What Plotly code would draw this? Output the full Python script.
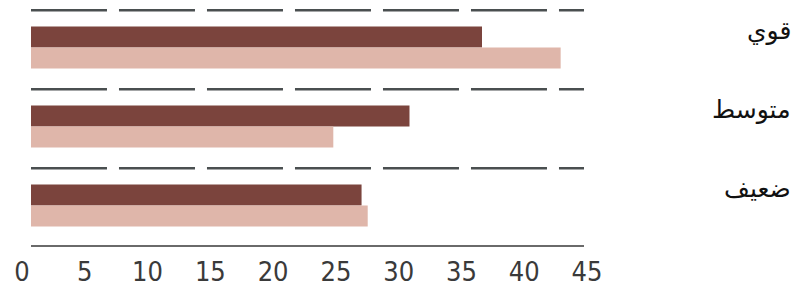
import plotly.graph_objects as go

categories = ["قوي", "متوسط", "ضعيف"]
series_dark = [36.7, 30.8, 26.9]
series_light = [43.1, 24.6, 27.4]
tick_values = [0, 5, 10, 15, 20, 25, 30, 35, 40, 45]
tick_labels = ["0", "5", "10", "15", "20", "25", "30", "35", "40", "45"]

DARK = "#7b443d"
LIGHT = "#dfb6aa"
SEP = "#4a4f50"

fig = go.Figure()
fig.add_trace(go.Bar(y=categories, x=series_dark, orientation="h",
                     marker=dict(color=DARK, line=dict(width=0)),
                     xaxis="x", yaxis="y", showlegend=False))
fig.add_trace(go.Bar(y=categories, x=series_light, orientation="h",
                     marker=dict(color=LIGHT, line=dict(width=0)),
                     xaxis="x", yaxis="y", showlegend=False))
# empty trace so the label axis is drawn
fig.add_trace(go.Scatter(x=[], y=[], xaxis="x2", yaxis="y", showlegend=False))

# dashed separators above each category
for i in range(len(categories)):
    fig.add_shape(type="line", xref="x", yref="y",
                  x0=0, x1=45.2, y0=i - 0.47, y1=i - 0.47,
                  line=dict(color=SEP, width=2.5, dash="76px,12px"))

# category labels on the right
for c in categories:
    fig.add_annotation(text=c, xref="paper", yref="y", x=1.364, y=c,
                       xanchor="right", yanchor="middle", yshift=17,
                       showarrow=False,
                       font=dict(family="DejaVu Sans", size=25, color="#111111"))

fig.update_layout(
    width=792, height=286,
    margin=dict(l=14, r=213, t=0, b=49),
    plot_bgcolor="rgba(0,0,0,0)", paper_bgcolor="white",
    barmode="group", bargap=0.47, bargroupgap=0,
    xaxis=dict(domain=[0.0159, 0.9947], range=[0, 45], showgrid=False,
               zeroline=False, showticklabels=False, ticks="",
               showline=True, linecolor="#6a6a6a", linewidth=2,
               anchor="y"),
    xaxis2=dict(domain=[0, 1], range=[0, 45], showgrid=False, zeroline=False,
                showline=False, ticks="", tickvals=tick_values,
                ticktext=tick_labels, anchor="y", side="bottom",
                ticklabelstandoff=8,
                tickfont=dict(family="DejaVu Sans Condensed, Liberation Sans Narrow, sans-serif",
                              size=27, color="#3a3a3a")),
    yaxis=dict(type="category", categoryarray=categories, range=[2.5, -0.5],
               showgrid=False, zeroline=False, showticklabels=False,
               ticks="", showline=False),
)

fig.write_html("out.html")
